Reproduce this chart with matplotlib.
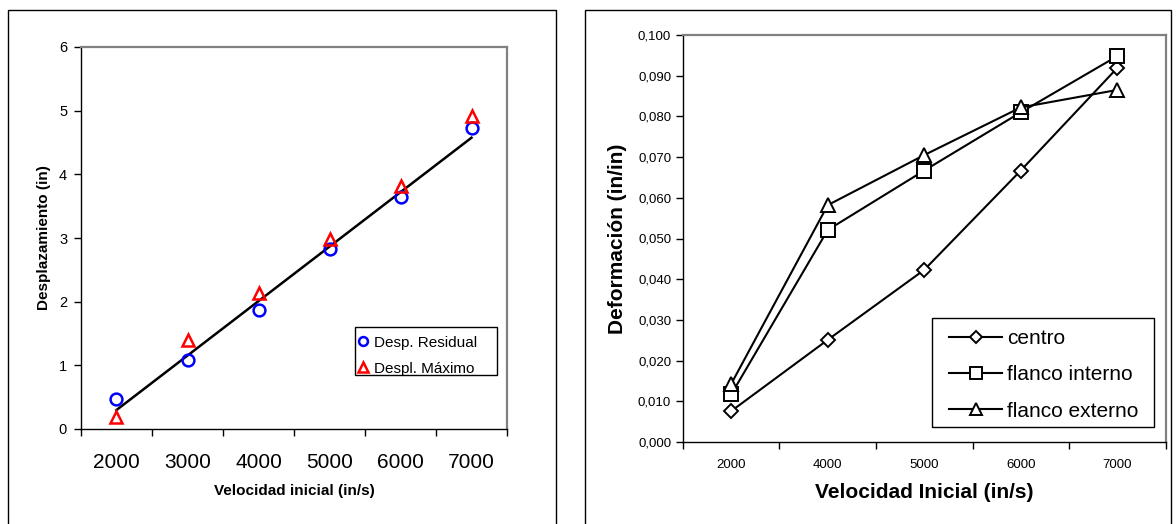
import numpy as np
import matplotlib
matplotlib.use("Agg")
import matplotlib.pyplot as plt
from matplotlib.patches import Rectangle
from matplotlib.ticker import FixedLocator, FuncFormatter

plt.rcParams['font.family'] = ['Liberation Sans', 'DejaVu Sans']

# left chart data
vel_izq = ["2000", "3000", "4000", "5000", "6000", "7000"]
desp_residual = [0.47, 1.08, 1.87, 2.83, 3.64, 4.73]
despl_maximo = [0.19, 1.40, 2.13, 2.98, 3.82, 4.91]

# right chart data
vel_der = ["2000", "4000", "5000", "6000", "7000"]
centro = [0.0076, 0.0251, 0.0423, 0.0667, 0.0919]
flanco_interno = [0.0117, 0.0521, 0.0667, 0.0810, 0.0948]
flanco_externo = [0.0143, 0.0582, 0.0705, 0.0822, 0.0865]

W, H = 1176, 524
fig = plt.figure(figsize=(W / 100, H / 100), dpi=100)


def fx(px):
    return px / W


def fy(py):
    return 1 - py / H


# outer chart frames
for x0, x1 in [(8, 556), (585, 1171)]:
    fig.patches.append(Rectangle((fx(x0), -0.2), fx(x1) - fx(x0), fy(10) + 0.2,
                                 transform=fig.transFigure, fill=False,
                                 edgecolor="black", linewidth=1.0))


def style_axes(ax):
    for s in ["top", "right"]:
        ax.spines[s].set_color("#808080")
        ax.spines[s].set_linewidth(1.6)
    for s in ["left", "bottom"]:
        ax.spines[s].set_color("black")
        ax.spines[s].set_linewidth(1.0)


def legend_box(ax, x0, x1, y0, y1):
    ax.add_patch(Rectangle((fx(x0), fy(y1)), fx(x1) - fx(x0), fy(y0) - fy(y1),
                           transform=fig.transFigure, facecolor="white",
                           edgecolor="black", linewidth=1.0, zorder=4, clip_on=False))


# ---- left chart ----
ax1 = fig.add_axes([fx(81), fy(429), fx(507) - fx(81), fy(47) - fy(429)])
style_axes(ax1)
xi = np.arange(len(vel_izq))
m, b = np.polyfit(xi, desp_residual, 1)
ax1.plot(xi, m * xi + b, color="black", linewidth=1.8, zorder=2)
ax1.plot(xi, desp_residual, linestyle="none", marker="o", markersize=8.5,
         markerfacecolor="none", markeredgecolor="#0000ff", markeredgewidth=1.8,
         label="Desp. Residual", zorder=3)
ax1.plot(xi, despl_maximo, linestyle="none", marker="^", markersize=9,
         markerfacecolor="none", markeredgecolor="#ff0000", markeredgewidth=1.8,
         label="Despl. Máximo", zorder=3)
ax1.set_xlim(-0.5, len(vel_izq) - 0.5)
ax1.set_ylim(0, 6)
ax1.set_yticks(range(0, 7))
ax1.xaxis.set_major_locator(FixedLocator(np.arange(-0.5, len(vel_izq), 1.0)))
ax1.xaxis.set_major_formatter(FuncFormatter(lambda v, p: ""))
ax1.xaxis.set_minor_locator(FixedLocator(xi))
ax1.set_xticklabels(vel_izq, minor=True)
ax1.tick_params(axis="x", which="minor", length=0, labelsize=15, pad=17)
ax1.tick_params(axis="x", which="major", length=5, width=1)
ax1.tick_params(axis="y", length=5, width=1, labelsize=10.5, pad=5)
ax1.set_ylabel("Desplazamiento (in)", fontsize=11, fontweight="bold", labelpad=6)
ax1.set_xlabel("Velocidad inicial (in/s)", fontsize=11, fontweight="bold", labelpad=9)
legend_box(ax1, 355, 497, 327, 375)
ax1.legend(loc="upper left", bbox_to_anchor=(fx(357.5), fy(335.5)),
           bbox_transform=fig.transFigure, fontsize=11, frameon=False,
           borderpad=0, handlelength=0.7, handletextpad=0.37,
           labelspacing=0.8, markerscale=0.75, borderaxespad=0).set_zorder(5)

# ---- right chart ----
ax2 = fig.add_axes([fx(683), fy(442), fx(1165.5) - fx(683), fy(35) - fy(442)])
style_axes(ax2)
xd = np.arange(len(vel_der))
common = dict(color="black", linewidth=1.5, markerfacecolor="white",
              markeredgecolor="black", markeredgewidth=1.4)
ax2.plot(xd, centro, marker="D", markersize=7, label="centro", **common)
ax2.plot(xd, flanco_interno, marker="s", markersize=9.5, label="flanco interno", **common)
ax2.plot(xd, flanco_externo, marker="^", markersize=10, label="flanco externo", **common)
ax2.set_xlim(-0.5, len(vel_der) - 0.5)
ax2.set_ylim(0, 0.1)
ax2.set_yticks(np.arange(0, 0.1001, 0.01))
ax2.yaxis.set_major_formatter(FuncFormatter(lambda v, p: f"{v:.3f}".replace(".", ",")))
ax2.xaxis.set_major_locator(FixedLocator(np.arange(-0.5, len(vel_der), 1.0)))
ax2.xaxis.set_major_formatter(FuncFormatter(lambda v, p: ""))
ax2.xaxis.set_minor_locator(FixedLocator(xd))
ax2.set_xticklabels(vel_der, minor=True)
ax2.tick_params(axis="x", which="minor", length=0, labelsize=9.5, pad=12)
ax2.tick_params(axis="x", which="major", length=5, width=1)
ax2.tick_params(axis="y", length=5, width=1, labelsize=9.5, pad=3.5)
ax2.set_ylabel("Deformación (in/in)", fontsize=15, fontweight="bold", labelpad=8)
ax2.set_xlabel("Velocidad Inicial (in/s)", fontsize=15, fontweight="bold", labelpad=9)
legend_box(ax2, 932, 1154, 318, 427)
ax2.legend(loc="upper left", bbox_to_anchor=(fx(949), fy(329)),
           bbox_transform=fig.transFigure, fontsize=15, frameon=False,
           borderpad=0, handlelength=2.55, handletextpad=0.25,
           labelspacing=0.83, markerscale=0.85, borderaxespad=0).set_zorder(5)

fig.savefig("out.png", dpi=100)
